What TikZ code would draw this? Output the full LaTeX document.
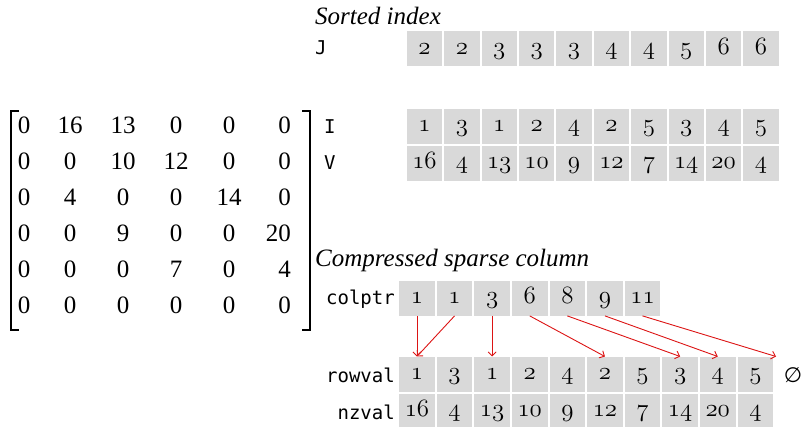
\documentclass[tikz,border=0pt]{standalone}
\usepackage{fontspec}
\setmainfont{Liberation Serif}
\setmonofont{DejaVu Sans Mono}
\newfontfamily\symfont{DejaVu Sans}
\usetikzlibrary{arrows.meta}
\definecolor{cellgray}{RGB}{217,217,217}
\definecolor{arrowred}{RGB}{220,20,20}
\newcommand\osn[1]{{\usefont{OML}{lmm}{m}{it}#1}}
\begin{document}
\begin{tikzpicture}[x=1pt,y=-1pt,
 cellbox/.style={fill=cellgray, minimum width=35.5pt, minimum height=35pt, inner sep=0pt, anchor=north west, font=\fontsize{27}{30}\selectfont, text height=17pt, text depth=6pt},
 lab/.style={font=\fontsize{19}{22}\selectfont\ttfamily, inner sep=0pt},
 mat/.style={font=\fontsize{25}{28}\selectfont, inner sep=0pt},
 ttl/.style={font=\fontsize{25}{28}\selectfont\itshape, inner sep=0pt, anchor=base west},
 ptr/.style={draw=arrowred, line width=0.9pt, -{Straight Barb[length=4pt,width=8pt]}},
 brk/.style={line width=1.7pt}]
\useasboundingbox (0,0) rectangle (803,427);
% titles
\node[ttl] (t1) at (315,25) {Sorted index};
\node[ttl] (t2) at (315,267) {Compressed sparse column};
% labels
\node[lab, anchor=base west] (lJ) at (315,55) {J};
\node[lab, anchor=base west] (lI) at (324,134) {I};
\node[lab, anchor=base west] (lV) at (324,170) {V};
\node[lab, anchor=base east] (lcp) at (395,305) {colptr};
\node[lab, anchor=base east] (lrv) at (395,382) {rowval};
\node[lab, anchor=base east] (lnz) at (395,419) {nzval};
% sorted index cells
\foreach \v [count=\i] in {2,2,3,3,3,4,4,5,6,6}
  \node[cellbox] (j\i) at ({406.5+(\i-1)*37.4}, 31) {\osn{\v}};
\foreach \v [count=\i] in {1,3,1,2,4,2,5,3,4,5}
  \node[cellbox] (i\i) at ({406.5+(\i-1)*37.4}, 108.5) {\osn{\v}};
\foreach \v [count=\i] in {16,4,13,10,9,12,7,14,20,4}
  \node[cellbox] (v\i) at ({406.5+(\i-1)*37.4}, 145.5) {\osn{\v}};
% CSC cells
\foreach \v [count=\i] in {1,1,3,6,8,9,11}
  \node[cellbox] (cp\i) at ({399+(\i-1)*37.6}, 280.5) {\osn{\v}};
\foreach \v [count=\i] in {1,3,1,2,4,2,5,3,4,5}
  \node[cellbox] (rv\i) at ({399+(\i-1)*37.6}, 356.5) {\osn{\v}};
\foreach \v [count=\i] in {16,4,13,10,9,12,7,14,20,4}
  \node[cellbox] (nz\i) at ({399+(\i-1)*37.6}, 393.5) {\osn{\v}};
\node[font=\fontsize{21}{24}\selectfont\symfont, inner sep=0pt, anchor=base] (empty) at (793,382) {∅};
% pointers
\coordinate (rvend) at (776,356.5);
\draw[ptr] (cp1.south) -- (rv1.north);
\draw[ptr] (cp2.south) -- (rv1.north);
\draw[ptr] (cp3.south) -- (rv3.north);
\draw[ptr] (cp4.south) -- (rv6.north);
\draw[ptr] (cp5.south) -- (rv8.north);
\draw[ptr] (cp6.south) -- (rv9.north);
\draw[ptr] (cp7.south) -- (rvend);
% matrix
\foreach \row [count=\r] in {{0,16,13,0,0},{0,0,10,12,0},{0,4,0,0,14},{0,0,9,0,0},{0,0,0,7,0},{0,0,0,0,0}}
  \foreach \v [count=\c] in \row {
    \pgfmathsetmacro\mx{{24,70,123,176,229}[\c-1]}
    \node[mat, anchor=base] (m\r-\c) at (\mx, {134+36*(\r-1)}) {\v};
  }
\foreach \v [count=\r] in {0,0,0,20,4,0}
  \node[mat, anchor=base east] (m\r-6) at (291, {134+36*(\r-1)}) {\v};
\draw[brk] (19,111) -- (11,111) -- (11,330) -- (19,330);
\draw[brk] (302,111) -- (310,111) -- (310,330) -- (302,330);
\end{tikzpicture}
\end{document}
